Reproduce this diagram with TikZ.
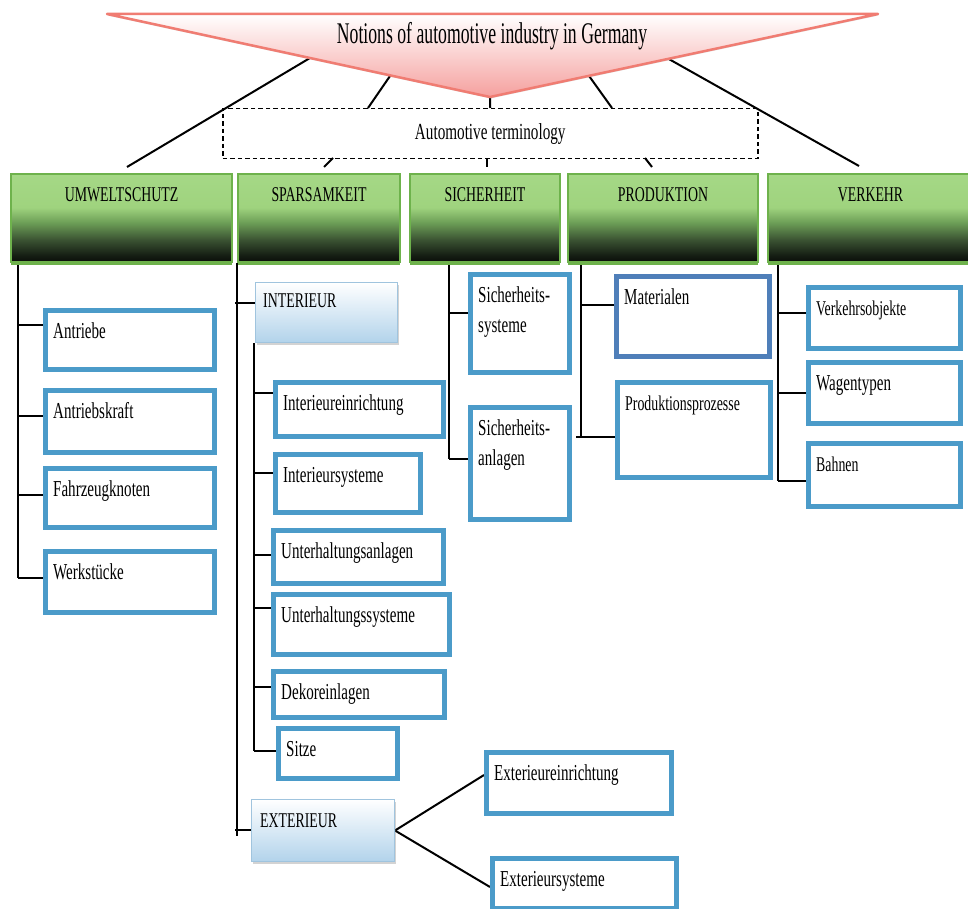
\documentclass[tikz,border=0pt]{standalone}
\usepackage{fontspec}
\setmainfont[FakeStretch=0.66]{Liberation Serif}
\newfontfamily\titlefam[FakeStretch=0.59]{Liberation Serif}
\usetikzlibrary{shadows,calc,backgrounds}
\definecolor{hbot}{RGB}{11,15,10}
\definecolor{hbot2}{RGB}{20,28,18}
\definecolor{hdark}{RGB}{58,82,50}
\definecolor{hmid}{RGB}{109,159,87}
\definecolor{hlight}{RGB}{159,211,126}
\definecolor{htop}{RGB}{165,216,134}
\definecolor{hborder}{RGB}{110,178,76}
\definecolor{leafblue}{RGB}{75,155,201}
\definecolor{matblue}{RGB}{79,127,185}
\definecolor{subborder}{RGB}{160,196,222}
\definecolor{subbot}{RGB}{178,211,235}
\definecolor{trired}{RGB}{240,124,114}
\definecolor{tripink}{RGB}{245,160,158}
\pgfdeclareverticalshading{hdrshade}{100bp}{color(0bp)=(hbot); color(25bp)=(hbot); color(28.5bp)=(hbot2); color(37.5bp)=(hdark); color(47.5bp)=(hmid); color(56bp)=(hlight); color(75bp)=(htop); color(100bp)=(htop)}
\newcommand\leaffont{\fontsize{22.8pt}{27pt}\selectfont}
\newcommand\smallleaf{\fontsize{21pt}{25pt}\selectfont}
\newcommand\hdrfont{\fontsize{21pt}{25pt}\selectfont}
\newcommand\termfont{\fontsize{23pt}{27pt}\selectfont}
\newcommand\bigtitlefont{\titlefam\fontsize{30pt}{34pt}\selectfont}
\newcommand\leafbox[7][]{%
  \pgfmathsetmacro\lbw{#5-#3}\pgfmathsetmacro\lbh{#6-#4}%
  \node[leaf,minimum width=\lbw pt,minimum height=\lbh pt,#1] (#2) at (#3,#4) {};%
  \node[leaftext] (#2-t) at ($(#2.north west)+(10,30)$) {#7};}
\begin{document}
\begin{tikzpicture}[x=1pt,y=-1pt,
  conn/.style={line width=2pt},
  leaf/.style={draw=leafblue,line width=4.5pt,fill=white,anchor=north west,inner sep=0pt},
  leaftext/.style={anchor=base west,inner sep=0pt,font=\leaffont},
  hdr/.style={draw=hborder,line width=2pt,shading=hdrshade,minimum height=88pt,anchor=north west,inner sep=0pt,
    drop shadow={shadow xshift=0pt,shadow yshift=-2.5pt,fill=hborder,opacity=1}},
  hdrtext/.style={anchor=base,inner sep=0pt,font=\hdrfont},
  subbox/.style={draw=subborder,line width=1pt,top color=white,bottom color=subbot,anchor=north west,inner sep=0pt,
    drop shadow={shadow xshift=1pt,shadow yshift=-2pt,opacity=0.35}},
  subtext/.style={anchor=base west,inner sep=0pt,font=\hdrfont}]
\useasboundingbox (0,0) rectangle (968,909);
% title triangle
\coordinate (tl) at (107,14);
\coordinate (tr) at (878,14);
\coordinate (apex) at (490,97);
\path[draw=trired,line width=2.5pt,line join=round,top color=white,bottom color=tripink,
  drop shadow={shadow xshift=0.5pt,shadow yshift=-1.5pt,opacity=0.25}] (tl) -- (tr) -- (apex) -- cycle;
\node[anchor=base,inner sep=0pt,font=\bigtitlefont] (title) at (492,44) {Notions of automotive industry in Germany};
% terminology box
\node[draw,dashed,dash pattern=on 4.5pt off 3pt,line width=1.5pt,minimum width=535pt,minimum height=50pt,anchor=north west,inner sep=0pt,font=\termfont] (term) at (222,108) {Automotive terminology};
% headers
\node[hdr,minimum width=221pt] (umw) at (10,173) {};
\node[hdr,minimum width=162pt] (spar) at (237,173) {};
\node[hdr,minimum width=150pt] (sich) at (409,173) {};
\node[hdr,minimum width=190pt] (prod) at (567,173) {};
\node[hdr,minimum width=205pt] (verk) at (767,173) {};
\node[hdrtext] (umw-t) at ($(umw.north)+(0,29)$) {UMWELTSCHUTZ};
\node[hdrtext] (spar-t) at ($(spar.north)+(0,29)$) {SPARSAMKEIT};
\node[hdrtext] (sich-t) at ($(sich.north)+(0,29)$) {SICHERHEIT};
\node[hdrtext] (prod-t) at ($(prod.north)+(0,29)$) {PRODUKTION};
\node[hdrtext] (verk-t) at ($(verk.north)+(0,29)$) {VERKEHR};
% UMWELTSCHUTZ leaves
\leafbox{antriebe}{43}{308}{212}{367}{Antriebe}
\leafbox{antriebskraft}{43}{388}{212}{450}{Antriebskraft}
\leafbox{fahrzeug}{43}{466}{212}{525}{Fahrzeugknoten}
\leafbox{werk}{43}{549}{212}{610}{Werkstücke}
% SPARSAMKEIT
\node[subbox,minimum width=142pt,minimum height=60pt] (interieur) at (255,282) {};
\node[subtext] (interieur-t) at ($(interieur.north west)+(8,25)$) {INTERIEUR};
\leafbox{intein}{273}{380}{441}{434}{Interieureinrichtung}
\leafbox{intsys}{273}{452}{418}{510}{Interieursysteme}
\leafbox{unteran}{271}{528}{441}{581}{Unterhaltungsanlagen}
\leafbox{untersys}{271}{592}{447}{652}{Unterhaltungssysteme}
\leafbox{dekor}{271}{669}{442}{715}{Dekoreinlagen}
\leafbox{sitze}{276}{726}{395}{776}{Sitze}
\node[subbox,minimum width=143pt,minimum height=62pt] (exterieur) at (251,799) {};
\node[subtext] (exterieur-t) at ($(exterieur.north west)+(9,28)$) {EXTERIEUR};
\leafbox{exein}{484}{750}{669}{811}{Exterieureinrichtung}
\leafbox{exsys}{490}{856}{674}{906}{Exterieursysteme}
% SICHERHEIT
\leafbox{sichsys}{468}{272}{567}{370}{Sicherheits-}
\node[leaftext] (sichsys-t2) at ($(sichsys-t.base west)+(0,30)$) {systeme};
\leafbox{sichan}{468}{405}{567}{517}{Sicherheits-}
\node[leaftext] (sichan-t2) at ($(sichan-t.base west)+(0,30)$) {anlagen};
% PRODUKTION
\leafbox[draw=matblue]{mat}{614}{274}{767}{354}{Materialen}
\leafbox{prodpro}{615}{380}{768}{475}{\smallleaf Produktionsprozesse}
% VERKEHR
\leafbox{verkobj}{806}{285}{958}{346}{\smallleaf Verkehrsobjekte}
\leafbox{wagen}{806}{360}{958}{421}{Wagentypen}
\leafbox{bahnen}{806}{441}{958}{504}{\smallleaf Bahnen}
% connectors
\begin{scope}[on background layer]
  \coordinate (cu) at (127,167);
  \coordinate (d1) at (368,108);
  \coordinate (d4) at (612,108);
  \coordinate (cv) at (859,166);
  \draw[conn] ($(tl)!0.53!(apex)$) -- (cu);
  \draw[conn] ($(tl)!0.74!(apex)$) -- (d1);
  \draw[conn] (apex) -- (term.north);
  \draw[conn] ($(apex)!0.255!(tr)$) -- (d4);
  \draw[conn] ($(apex)!0.46!(tr)$) -- (cv);
  % ticks from terminology box
  \coordinate (k1a) at (333,158); \coordinate (k1b) at (324,167);
  \coordinate (k2b) at (487,167);
  \coordinate (k3a) at (645,158); \coordinate (k3b) at (652,167);
  \draw[conn] (k1a) -- (k1b);
  \draw[conn] (term.south -| k2b) -- (k2b);
  \draw[conn] (k3a) -- (k3b);
  % UMWELTSCHUTZ
  \coordinate (u1) at (18,325); \coordinate (u2) at (18,416);
  \coordinate (u3) at (18,495); \coordinate (u4) at (18,578);
  \draw[conn] (umw.south -| u4) -- (u4);
  \foreach \c/\n in {u1/antriebe,u2/antriebskraft,u3/fahrzeug,u4/werk}
    \draw[conn] (\c) -- (\c -| \n.west);
  % SPARSAMKEIT
  \coordinate (s0) at (237,836);
  \coordinate (s1) at (235,303); \coordinate (s2) at (235,830);
  \draw[conn] (spar.south -| s0) -- (s0);
  \draw[conn] (s1) -- (s1 -| interieur.west);
  \draw[conn] (s2) -- (s2 -| exterieur.west);
  \coordinate (i1) at (254,393); \coordinate (i2) at (254,473);
  \coordinate (i3) at (254,555); \coordinate (i4) at (254,608);
  \coordinate (i5) at (254,687); \coordinate (i6) at (254,751);
  \draw[conn] (interieur.south -| i6) -- (i6);
  \foreach \c/\n in {i1/intein,i2/intsys,i3/unteran,i4/untersys,i5/dekor,i6/sitze}
    \draw[conn] (\c) -- (\c -| \n.west);
  \coordinate (e1) at (484,775); \coordinate (e2) at (490,887);
  \draw[conn] (exterieur.east) -- (e1);
  \draw[conn] (exterieur.east) -- (e2);
  % SICHERHEIT
  \coordinate (h1) at (449,313); \coordinate (h2) at (449,459);
  \draw[conn] (sich.south -| h2) -- (h2);
  \draw[conn] (h1) -- (h1 -| sichsys.west);
  \draw[conn] (h2) -- (h2 -| sichan.west);
  % PRODUKTION
  \coordinate (p0) at (581,437);
  \coordinate (p1) at (581,305); \coordinate (p2) at (576,437);
  \draw[conn] (prod.south -| p0) -- (p0);
  \draw[conn] (p1) -- (p1 -| mat.west);
  \draw[conn] (p2) -- (p2 -| prodpro.west);
  % VERKEHR
  \coordinate (v1) at (778,313); \coordinate (v2) at (778,393); \coordinate (v3) at (778,481);
  \draw[conn] (verk.south -| v3) -- (v3);
  \foreach \c/\n in {v1/verkobj,v2/wagen,v3/bahnen}
    \draw[conn] (\c) -- (\c -| \n.west);
\end{scope}
\end{tikzpicture}
\end{document}
